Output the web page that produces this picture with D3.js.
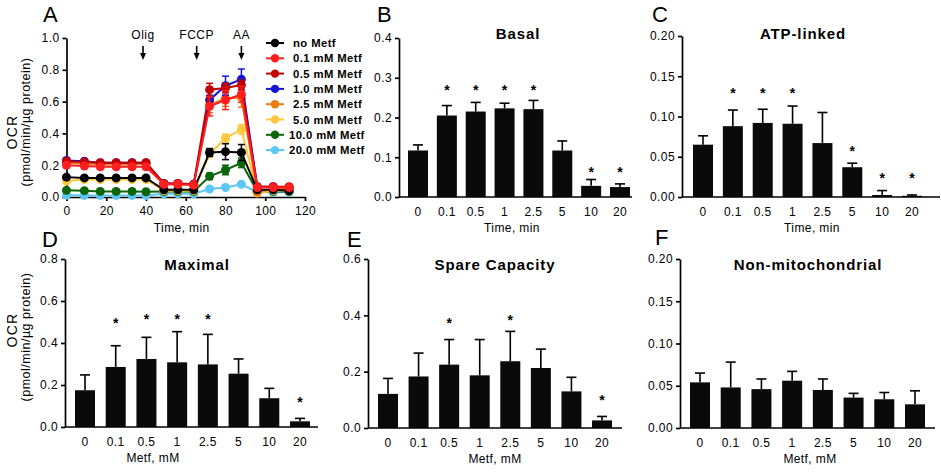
<!DOCTYPE html>
<html><head><meta charset="utf-8">
<script src="https://cdn.jsdelivr.net/npm/d3@7"></script>
<style>
body{margin:0;background:#fff;}
svg text{font-family:Arial,"Liberation Sans",sans-serif;fill:#000;}
</style></head><body>
<svg id="c" width="941" height="473"></svg>
<script>
// ---------- Panel A data ----------
const times = [0,9,17,25,33,40,49,56,64,72,80,88,96,104,112];
const seriesNames = ["no Metf","0.1 mM Metf","0.5 mM Metf","1.0 mM Metf","2.5 mM Metf","5.0 mM Metf","10.0 mM Metf","20.0 mM Metf"];
const seriesColors = ["#000000","#ff1f1f","#c40000","#1515d6","#ec7b14","#ffc83d","#0b650b","#5cc6f4"];
const ocrNoMetf = [0.125,0.12,0.12,0.12,0.12,0.12,0.045,0.045,0.045,0.28,0.285,0.28,0.045,0.045,0.04];
const ocr01 = [0.20,0.195,0.19,0.19,0.19,0.19,0.08,0.08,0.075,0.57,0.61,0.645,0.06,0.06,0.06];
const ocr05 = [0.225,0.22,0.215,0.215,0.215,0.215,0.085,0.085,0.08,0.675,0.685,0.705,0.065,0.065,0.065];
const ocr10 = [0.23,0.225,0.215,0.215,0.215,0.215,0.085,0.085,0.08,0.61,0.70,0.74,0.065,0.065,0.06];
const ocr25 = [0.215,0.21,0.205,0.205,0.205,0.21,0.08,0.08,0.075,0.58,0.62,0.625,0.03,0.05,0.05];
const ocr50 = [0.10,0.11,0.11,0.11,0.11,0.11,0.04,0.04,0.04,0.27,0.37,0.425,0.025,0.04,0.04];
const ocr100 = [0.042,0.04,0.035,0.035,0.035,0.033,0.035,0.035,0.035,0.13,0.17,0.215,0.035,0.035,0.035];
const ocr200 = [0.012,0.01,0.01,0.01,0.01,0.01,0.02,0.02,0.02,0.05,0.06,0.08,0.03,0.03,0.03];
const errNoMetf = [0.012,0.01,0.01,0.01,0.01,0.01,0.008,0.008,0.008,0.025,0.05,0.05,0.008,0.008,0.008];
const err01 = [0.015,0.015,0.015,0.015,0.015,0.015,0.01,0.01,0.01,0.06,0.06,0.05,0.01,0.01,0.01];
const err05 = [0.015,0.015,0.015,0.015,0.015,0.015,0.01,0.01,0.01,0.04,0.03,0.03,0.01,0.01,0.01];
const err10 = [0.015,0.015,0.015,0.015,0.015,0.015,0.01,0.01,0.01,0.03,0.06,0.065,0.01,0.01,0.01];
const err25 = [0.015,0.015,0.015,0.015,0.015,0.015,0.01,0.01,0.01,0.05,0.05,0.06,0.01,0.01,0.01];
const err50 = [0.01,0.01,0.01,0.01,0.01,0.01,0.008,0.008,0.008,0.02,0.025,0.03,0.008,0.008,0.008];
const err100 = [0.01,0.01,0.008,0.008,0.008,0.008,0.006,0.006,0.006,0.02,0.03,0.03,0.006,0.006,0.006];
const err200 = [0.005,0.005,0.005,0.005,0.005,0.005,0.005,0.005,0.005,0.005,0.01,0.01,0.005,0.005,0.005];
const injections = ["Olig","FCCP","AA"];
const injectionTimes = [38.5,65.5,88];
const timeTicks = [0,20,40,60,80,100,120];
const ocrTicks = [0,0.2,0.4,0.6,0.8,1.0];

// ---------- Bar panel data ----------
const doses = ["0","0.1","0.5","1","2.5","5","10","20"];
const basal = [0.117,0.205,0.215,0.223,0.221,0.117,0.028,0.025];
const basalErr = [0.014,0.025,0.023,0.013,0.022,0.024,0.016,0.008];
const basalStars = [null,0.277,0.277,0.277,0.277,null,0.07,0.07];
const atpLinked = [0.065,0.088,0.092,0.091,0.067,0.037,0.0025,0.0015];
const atpErr = [0.011,0.02,0.017,0.022,0.038,0.005,0.0055,0.001];
const atpStars = [null,0.133,0.133,0.133,null,0.061,0.027,0.027];
const maximal = [0.175,0.286,0.324,0.308,0.298,0.254,0.137,0.027];
const maximalErr = [0.073,0.101,0.103,0.146,0.143,0.07,0.047,0.014];
const maximalStars = [null,0.51,0.529,0.529,0.529,null,null,0.133];
const spare = [0.121,0.183,0.225,0.187,0.237,0.213,0.130,0.027];
const spareErr = [0.055,0.083,0.089,0.127,0.106,0.067,0.05,0.014];
const spareStars = [null,null,0.383,null,0.394,null,null,0.11];
const nonMito = [0.054,0.048,0.046,0.056,0.045,0.036,0.034,0.028];
const nonMitoErr = [0.011,0.030,0.012,0.011,0.013,0.005,0.008,0.016];
const nonMitoStars = [null,null,null,null,null,null,null,null];
const ticksB = [0,0.1,0.2,0.3,0.4];
const ticksC = [0,0.05,0.10,0.15,0.20];
const ticksD = [0,0.2,0.4,0.6,0.8];
const ticksE = [0,0.2,0.4,0.6];
const ticksF = [0,0.05,0.10,0.15,0.20];

const svg = d3.select("#c");
const FS = 12;

function styleAxis(g){
  g.selectAll("path,line").attr("stroke","#000").attr("stroke-width",1.7);
  g.selectAll("text").attr("font-size",FS).attr("letter-spacing","0.4px").attr("fill","#000");
}
function letter(x,y,t){
  svg.append("text").attr("x",x).attr("y",y).attr("font-size",22).text(t);
}
function yTitle(cx,cyO,cyP){
  svg.append("text").attr("transform",`translate(${cx-2},${cyO}) rotate(-90)`).attr("text-anchor","middle")
    .attr("dominant-baseline","central").attr("font-size",14).attr("letter-spacing","1.3px").text("OCR");
  svg.append("text").attr("transform",`translate(${cx+12},${cyP}) rotate(-90)`).attr("text-anchor","middle")
    .attr("dominant-baseline","central").attr("font-size",12.5).attr("letter-spacing","0.5px").text("(pmol/min/\u00b5g protein)");
}

// ---------- Panel A ----------
(function(){
  const L=66.5,R=305,T=38,B=197;
  const x=d3.scaleLinear().domain([0,120]).range([L,R]);
  const y=d3.scaleLinear().domain([0,1]).range([B,T]);
  const gy=svg.append("g").attr("transform",`translate(${L},0)`)
    .call(d3.axisLeft(y).tickValues(ocrTicks).tickFormat(d3.format(".1f")).tickSize(4).tickPadding(3).tickSizeOuter(0));
  styleAxis(gy);
  const gx=svg.append("g").attr("transform",`translate(0,${B})`)
    .call(d3.axisBottom(x).tickValues(timeTicks).tickFormat(d3.format("d")).tickSize(4).tickPadding(5).tickSizeOuter(0));
  styleAxis(gx);
  svg.append("text").attr("x",(L+R)/2-4).attr("y",228).attr("text-anchor","middle").attr("dominant-baseline","central")
    .attr("font-size",FS).attr("letter-spacing","0.4px").text("Time, min");
  yTitle(14,132,122);
  letter(43,22,"A");

  const vals=[ocrNoMetf,ocr01,ocr05,ocr10,ocr25,ocr50,ocr100,ocr200];
  const errs=[errNoMetf,err01,err05,err10,err25,err50,err100,err200];
  const order=[7,6,5,4,3,2,0,1];
  const line=d3.line().x((d,i)=>x(times[i])).y(d=>y(d));
  order.forEach(s=>{
    const g=svg.append("g");
    const c=seriesColors[s];
    g.append("path").attr("d",line(vals[s])).attr("fill","none").attr("stroke",c).attr("stroke-width",2);
    vals[s].forEach((v,i)=>{
      const e=errs[s][i], xx=x(times[i]);
      g.append("line").attr("x1",xx).attr("x2",xx).attr("y1",y(v-e)).attr("y2",y(v+e)).attr("stroke",c).attr("stroke-width",1.5);
      [v-e,v+e].forEach(w=>g.append("line").attr("x1",xx-3.5).attr("x2",xx+3.5).attr("y1",y(w)).attr("y2",y(w)).attr("stroke",c).attr("stroke-width",1.5));
    });
    g.selectAll("circle").data(vals[s]).join("circle").attr("cx",(d,i)=>x(times[i])).attr("cy",d=>y(d)).attr("r",4.5).attr("fill",c);
  });
  // injection arrows
  injections.forEach((t,i)=>{
    const xx=x(injectionTimes[i]);
    svg.append("text").attr("x",xx).attr("y",35).attr("text-anchor","middle").attr("dominant-baseline","central")
      .attr("font-size",12).attr("letter-spacing","0.5px").text(t);
    svg.append("line").attr("x1",xx).attr("x2",xx).attr("y1",46).attr("y2",55).attr("stroke","#000").attr("stroke-width",1.6);
    svg.append("path").attr("d",`M${xx-3},${53}L${xx+3},${53}L${xx},${60}Z`).attr("fill","#000");
  });
  // legend
  seriesNames.forEach((n,i)=>{
    const yy=43+i*15.3;
    svg.append("line").attr("x1",266).attr("x2",284).attr("y1",yy).attr("y2",yy).attr("stroke",seriesColors[i]).attr("stroke-width",2);
    svg.append("circle").attr("cx",275).attr("cy",yy).attr("r",4.2).attr("fill",seriesColors[i]);
    svg.append("text").attr("x",n.startsWith("10")||n.startsWith("20")?289:293).attr("y",yy).attr("dominant-baseline","central")
      .attr("font-size",11.3).attr("font-weight","bold").attr("letter-spacing","0.4px").text(n);
  });
})();

// ---------- Bar panels ----------
function barPanel(cfg){
  const y=d3.scaleLinear().domain([0,cfg.ymax]).range([cfg.bottom,cfg.top]);
  const step=(cfg.lastC-cfg.firstC)/7;
  const pi=1-20/step;
  const x=d3.scaleBand().domain(doses).range([cfg.firstC-step/2,cfg.lastC+step/2]).paddingInner(pi).paddingOuter(pi/2);
  const bw=x.bandwidth();
  const g=svg.append("g");
  g.selectAll("rect.bar").data(cfg.vals).join("rect").attr("class","bar")
    .attr("x",(d,i)=>x(doses[i])).attr("width",bw).attr("y",d=>y(d)).attr("height",d=>cfg.bottom-y(d))
    .attr("fill","#0a0a0a");
  cfg.vals.forEach((v,i)=>{
    const cx=x(doses[i])+bw/2, top=y(v+cfg.errs[i]);
    g.append("line").attr("x1",cx).attr("x2",cx).attr("y1",y(v)).attr("y2",top).attr("stroke","#000").attr("stroke-width",1.6);
    g.append("line").attr("x1",cx-5).attr("x2",cx+5).attr("y1",top).attr("y2",top).attr("stroke","#000").attr("stroke-width",1.6);
    if(cfg.stars[i]!=null){
      g.append("text").attr("x",cx).attr("y",y(cfg.stars[i])+8).attr("text-anchor","middle")
        .attr("font-size",14).attr("font-weight","bold").text("*");
    }
  });
  const gy=svg.append("g").attr("transform",`translate(${cfg.axisX},0)`)
    .call(d3.axisLeft(y).tickValues(cfg.ticks).tickFormat(d3.format(cfg.fmt)).tickSize(4).tickPadding(3).tickSizeOuter(0));
  styleAxis(gy);
  const gx=svg.append("g").attr("transform",`translate(0,${cfg.bottom})`)
    .call(d3.axisBottom(x).tickSize(0).tickPadding(10.5));
  gx.select(".domain").remove();
  styleAxis(gx);
  svg.append("line").attr("x1",cfg.axisX).attr("x2",cfg.axisEnd).attr("y1",cfg.bottom).attr("y2",cfg.bottom)
    .attr("stroke","#000").attr("stroke-width",1.7);
  svg.append("text").attr("x",cfg.titleX).attr("y",cfg.titleY).attr("text-anchor","middle").attr("dominant-baseline","central")
    .attr("font-size",15).attr("font-weight","bold").attr("letter-spacing","0.9px").text(cfg.title);
  svg.append("text").attr("x",cfg.xTitleX).attr("y",cfg.bottom+31).attr("text-anchor","middle").attr("dominant-baseline","central")
    .attr("font-size",FS).attr("letter-spacing","0.4px").text(cfg.xTitle);
  letter(cfg.letterX,cfg.letterY,cfg.letter);
}

barPanel({vals:basal,errs:basalErr,stars:basalStars,ymax:0.4,ticks:ticksB,fmt:".1f",axisX:399,axisEnd:632,top:38,bottom:197,
  firstC:418,lastC:620,title:"Basal",titleX:518,titleY:33,xTitle:"Time, min",xTitleX:512,letter:"B",letterX:377,letterY:22});
barPanel({vals:atpLinked,errs:atpErr,stars:atpStars,ymax:0.2,ticks:ticksC,fmt:".2f",axisX:682,axisEnd:940,top:36,bottom:197,
  firstC:703,lastC:912,title:"ATP-linked",titleX:803,titleY:33,xTitle:"Time, min",xTitleX:812,letter:"C",letterX:652,letterY:22});
barPanel({vals:maximal,errs:maximalErr,stars:maximalStars,ymax:0.8,ticks:ticksD,fmt:".1f",axisX:65,axisEnd:318,top:259,bottom:427,
  firstC:85,lastC:300,title:"Maximal",titleX:197,titleY:264,xTitle:"Metf, mM",xTitleX:153,letter:"D",letterX:42,letterY:247});
barPanel({vals:spare,errs:spareErr,stars:spareStars,ymax:0.6,ticks:ticksE,fmt:".1f",axisX:368,axisEnd:622,top:259,bottom:428,
  firstC:388,lastC:602,title:"Spare Capacity",titleX:495,titleY:264,xTitle:"Metf, mM",xTitleX:495,letter:"E",letterX:347,letterY:247});
barPanel({vals:nonMito,errs:nonMitoErr,stars:nonMitoStars,ymax:0.2,ticks:ticksF,fmt:".2f",axisX:680,axisEnd:935,top:259,bottom:428,
  firstC:700,lastC:915,title:"Non-mitochondrial",titleX:808,titleY:264,xTitle:"Metf, mM",xTitleX:810,letter:"F",letterX:655,letterY:245});
yTitle(14,330,337);
</script>
</body></html>
